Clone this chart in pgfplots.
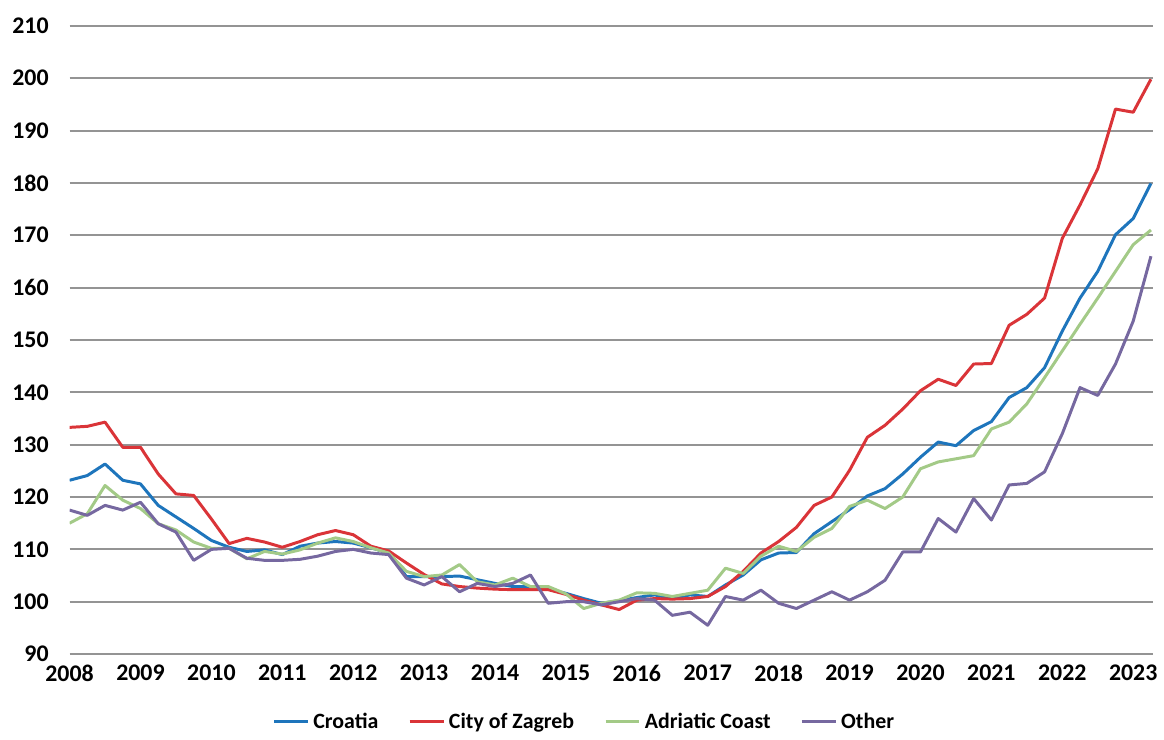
\documentclass[border=0pt]{standalone}
\usepackage{fontspec}
\setmainfont{Carlito}
\usepackage{pgfplots}
\pgfplotsset{compat=1.18}

\definecolor{croatia}{RGB}{30,117,188}
\definecolor{zagreb}{RGB}{218,52,56}
\definecolor{adriatic}{RGB}{163,202,135}
\definecolor{other}{RGB}{118,104,160}

\begin{document}
\begin{tikzpicture}
 \begin{axis}[
    name=ax,
    scale only axis,
    width=545pt, height=316pt,
    xmin=2008, xmax=2023.28,
    ymin=90, ymax=210,
    xtick={2008,2009,2010,2011,2012,2013,2014,2015,2016,2017,2018,2019,2020,2021,2022,2023},
    xticklabels={2008,2009,2010,2011,2012,2013,2014,2015,2016,2017,2018,2019,2020,2021,2022,2023},
    ytick={90,100,...,210},
    axis line style={draw=none},
    major tick length=0pt,
    ymajorgrids,
    grid style={draw=black!42, line width=1pt},
    /pgf/number format/assume math mode=true,
    tick label style={font=\bfseries\fontsize{12}{13}\selectfont},
    yticklabel style={xshift=-7pt},
    xticklabel style={yshift=-2pt},
    legend style={at={(0.476,-0.108)}, anchor=center, draw=none,
        font=\bfseries\fontsize{11}{13}\selectfont, legend columns=4,
        /tikz/every even column/.append style={column sep=13pt}},
    legend image code/.code={\draw[#1] (0pt,0pt) -- (17pt,0pt);},
    every axis plot/.append style={line width=1.5pt, mark=none, line join=round},
 ]
  \addplot[croatia] coordinates {
(2008.00,123.2) (2008.25,124.1) (2008.50,126.3) (2008.75,123.2)
(2009.00,122.5) (2009.25,118.4) (2009.50,116.2) (2009.75,114.0)
(2010.00,111.7) (2010.25,110.4) (2010.50,109.6) (2010.75,109.9)
(2011.00,109.0) (2011.25,110.6) (2011.50,111.2) (2011.75,111.5)
(2012.00,111.2) (2012.25,110.3) (2012.50,109.3) (2012.75,104.8)
(2013.00,104.8) (2013.25,104.8) (2013.50,104.9) (2013.75,104.2)
(2014.00,103.5) (2014.25,102.9) (2014.50,102.9) (2014.75,102.4)
(2015.00,101.6) (2015.25,100.6) (2015.50,99.7) (2015.75,100.2)
(2016.00,100.8) (2016.25,101.3) (2016.50,100.6) (2016.75,101.3)
(2017.00,101.0) (2017.25,103.2) (2017.50,105.1) (2017.75,108.0)
(2018.00,109.3) (2018.25,109.4) (2018.50,113.0) (2018.75,115.3)
(2019.00,117.6) (2019.25,120.2) (2019.50,121.6) (2019.75,124.4)
(2020.00,127.6) (2020.25,130.5) (2020.50,129.8) (2020.75,132.7)
(2021.00,134.4) (2021.25,139.0) (2021.50,140.9) (2021.75,144.7)
(2022.00,151.7) (2022.25,158.0) (2022.50,163.1) (2022.75,170.1)
(2023.00,173.2) (2023.25,179.9)
};
  \addplot[zagreb] coordinates {
(2008.00,133.3) (2008.25,133.5) (2008.50,134.3) (2008.75,129.5)
(2009.00,129.5) (2009.25,124.4) (2009.50,120.6) (2009.75,120.3)
(2010.00,115.8) (2010.25,111.1) (2010.50,112.1) (2010.75,111.4)
(2011.00,110.4) (2011.25,111.5) (2011.50,112.8) (2011.75,113.6)
(2012.00,112.8) (2012.25,110.6) (2012.50,109.7) (2012.75,107.4)
(2013.00,105.2) (2013.25,103.4) (2013.50,102.9) (2013.75,102.6)
(2014.00,102.4) (2014.25,102.3) (2014.50,102.3) (2014.75,102.3)
(2015.00,101.4) (2015.25,100.3) (2015.50,99.4) (2015.75,98.5)
(2016.00,100.3) (2016.25,100.6) (2016.50,100.5) (2016.75,100.6)
(2017.00,101.0) (2017.25,102.9) (2017.50,105.8) (2017.75,109.3)
(2018.00,111.5) (2018.25,114.2) (2018.50,118.4) (2018.75,120.0)
(2019.00,125.1) (2019.25,131.4) (2019.50,133.7) (2019.75,136.8)
(2020.00,140.3) (2020.25,142.5) (2020.50,141.3) (2020.75,145.4)
(2021.00,145.5) (2021.25,152.8) (2021.50,154.9) (2021.75,158.0)
(2022.00,169.4) (2022.25,175.8) (2022.50,182.7) (2022.75,194.1)
(2023.00,193.5) (2023.25,199.8)
};
  \addplot[adriatic] coordinates {
(2008.00,115.0) (2008.25,116.8) (2008.50,122.2) (2008.75,119.4)
(2009.00,117.8) (2009.25,114.9) (2009.50,113.7) (2009.75,111.4)
(2010.00,110.2) (2010.25,110.2) (2010.50,108.2) (2010.75,109.6)
(2011.00,109.1) (2011.25,109.9) (2011.50,111.2) (2011.75,112.2)
(2012.00,111.5) (2012.25,110.3) (2012.50,109.3) (2012.75,105.8)
(2013.00,104.8) (2013.25,105.1) (2013.50,107.1) (2013.75,103.8)
(2014.00,103.2) (2014.25,104.5) (2014.50,102.9) (2014.75,102.9)
(2015.00,101.5) (2015.25,98.7) (2015.50,99.7) (2015.75,100.3)
(2016.00,101.7) (2016.25,101.6) (2016.50,101.0) (2016.75,101.6)
(2017.00,102.2) (2017.25,106.4) (2017.50,105.4) (2017.75,108.7)
(2018.00,110.6) (2018.25,109.6) (2018.50,112.3) (2018.75,114.0)
(2019.00,118.2) (2019.25,119.4) (2019.50,117.8) (2019.75,120.0)
(2020.00,125.4) (2020.25,126.7) (2020.50,127.3) (2020.75,127.9)
(2021.00,133.0) (2021.25,134.3) (2021.50,137.8) (2021.75,142.8)
(2022.00,147.9) (2022.25,153.0) (2022.50,158.0) (2022.75,163.1)
(2023.00,168.2) (2023.25,171.0)
};
  \addplot[other] coordinates {
(2008.00,117.5) (2008.25,116.5) (2008.50,118.4) (2008.75,117.5)
(2009.00,119.0) (2009.25,114.9) (2009.50,113.3) (2009.75,107.9)
(2010.00,110.0) (2010.25,110.2) (2010.50,108.3) (2010.75,107.9)
(2011.00,107.9) (2011.25,108.1) (2011.50,108.7) (2011.75,109.6)
(2012.00,110.0) (2012.25,109.3) (2012.50,109.0) (2012.75,104.5)
(2013.00,103.2) (2013.25,104.8) (2013.50,101.9) (2013.75,103.5)
(2014.00,102.9) (2014.25,103.5) (2014.50,105.1) (2014.75,99.7)
(2015.00,100.0) (2015.25,100.0) (2015.50,99.4) (2015.75,100.0)
(2016.00,100.6) (2016.25,100.3) (2016.50,97.4) (2016.75,98.0)
(2017.00,95.5) (2017.25,101.0) (2017.50,100.3) (2017.75,102.2)
(2018.00,99.7) (2018.25,98.7) (2018.50,100.3) (2018.75,101.9)
(2019.00,100.3) (2019.25,101.9) (2019.50,104.1) (2019.75,109.5)
(2020.00,109.5) (2020.25,115.9) (2020.50,113.3) (2020.75,119.7)
(2021.00,115.6) (2021.25,122.3) (2021.50,122.6) (2021.75,124.8)
(2022.00,132.1) (2022.25,140.9) (2022.50,139.4) (2022.75,145.4)
(2023.00,153.6) (2023.25,166.0)
};
  \legend{Croatia, City of Zagreb, Adriatic Coast, Other}
 \end{axis}
 % fix the page to the reference's margins
 \path (ax.south west) ++(-35pt,-42pt) coordinate (bl);
 \path (ax.north east) ++(2pt,13pt) coordinate (tr);
 \path (bl) (tr);
\end{tikzpicture}
\end{document}
